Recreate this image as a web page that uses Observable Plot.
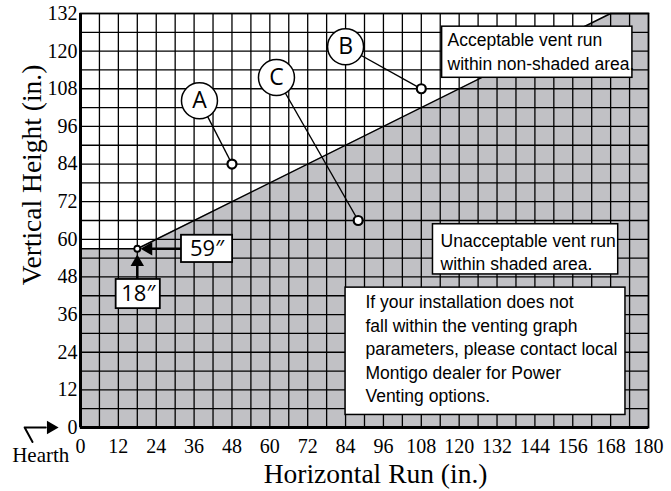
<!DOCTYPE html>
<html>
<head>
<meta charset="utf-8">
<script src="https://cdn.jsdelivr.net/npm/d3@7"></script>
<script src="https://cdn.jsdelivr.net/npm/@observablehq/plot@0.6"></script>
<style>
  html, body { margin: 0; padding: 0; background: white; }
  svg { display: block; }
</style>
</head>
<body>
<div id="chart"></div>
<script>
// Tick labels
const xTicks = [0, 12, 24, 36, 48, 60, 72, 84, 96, 108, 120, 132, 144, 156, 168, 180];
const yTicks = [0, 12, 24, 36, 48, 60, 72, 84, 96, 108, 120, 132];
// Grid lines (every 6 in.)
const xGrid = [6, 12, 18, 24, 30, 36, 42, 48, 54, 60, 66, 72, 78, 84, 90, 96, 102, 108, 114, 120, 126, 132, 138, 144, 150, 156, 162, 168, 174];
const yGrid = [6, 12, 18, 24, 30, 36, 42, 48, 54, 60, 66, 72, 78, 84, 90, 96, 102, 108, 114, 120, 126];

// Boundary of the unacceptable (shaded) area
const boundary = [
  {x: 0, y: 57},
  {x: 18, y: 57},
  {x: 168, y: 132},
  {x: 180, y: 132}
];

// Example installations with their labels
const examples = [
  {label: "A", x: 48, y: 84, lx: 37.7, ly: 104.2},
  {label: "B", x: 108, y: 108, lx: 84, ly: 121.4},
  {label: "C", x: 88, y: 66, lx: 62.1, ly: 111.6}
];

// Minimum point
const minPoint = [{x: 18, y: 57}];

// Note boxes
const notes = [
  {text: "Acceptable vent run\nwithin non-shaded area.", x1: 114.6, x2: 174.9, y1: 111.5, y2: 127.8, tx: 116.3, ty: 126.8},
  {text: "Unacceptable vent run\nwithin shaded area.", x1: 111.7, x2: 170.4, y1: 48.8, y2: 64.8, tx: 114.1, ty: 63.0},
  {text: "If your installation does not\nfall within the venting graph\nparameters, please contact local\nMontigo dealer for Power\nVenting options.", x1: 84.0, x2: 172.7, y1: 4.0, y2: 44.6, tx: 90.3, ty: 43.3}
];

// Dimension callouts
const dims = [
  {text: "59″", x1: 32.0, x2: 48.2, y1: 52.6, y2: 61.3},
  {text: "18″", x1: 11.3, x2: 25.3, y1: 37.9, y2: 47.2}
];
const shafts = [
  {x1: 32.0, y1: 57, x2: 21.5, y2: 57},
  {x1: 18, y1: 47.2, x2: 18, y2: 52.7}
];
const heads = [
  {x: 21.5, y: 57, rot: -90, r: 5},
  {x: 18, y: 52.7, rot: 0, r: 5},
  {x: -9.4, y: 0, rot: 90, r: 5}
];
// Hearth pointer
const hearthArrow = [
  {x: -15.2, y: -4.6},
  {x: -17.7, y: 0},
  {x: -11.0, y: 0}
];
const hearthLabel = [{text: "Hearth", x: -12.6, y: -9.0}];
const titles = [
  {text: "Horizontal Run (in.)", x: 93.5, y: -14.8, rotate: 0},
  {text: "Vertical Height (in.)", x: -15.2, y: 80.5, rotate: -90}
];

const serif = "Liberation Serif, Times New Roman, serif";
const sans = "Liberation Sans, Arial, sans-serif";
const round = "Open Sans, Liberation Sans, sans-serif";

const chart = Plot.plot({
  width: 671,
  height: 491,
  marginLeft: 80,
  marginRight: 23,
  marginTop: 13,
  marginBottom: 64,
  x: {domain: [0, 180]},
  y: {domain: [0, 132]},
  r: {type: "identity"},
  style: {fontFamily: serif, fontSize: "20px", background: "white", color: "black"},
  marks: [
    Plot.areaY(boundary, {x: "x", y: "y", fill: "#c1c1c5", curve: "linear"}),
    Plot.ruleX(xGrid, {stroke: "black", strokeWidth: 1.3}),
    Plot.ruleY(yGrid, {stroke: "black", strokeWidth: 1.3}),
    Plot.line(boundary, {x: "x", y: "y", stroke: "black", strokeWidth: 1.5}),
    Plot.frame({stroke: "black", strokeWidth: 1.8}),
    Plot.ruleX([0], {stroke: "black", strokeWidth: 3}),
    Plot.ruleY([0], {stroke: "black", strokeWidth: 3}),
    Plot.axisX({ticks: xTicks, tickSize: 0, tickPadding: 11, label: null, fontSize: 20, fontFamily: serif}),
    Plot.axisY({ticks: yTicks, tickSize: 0, tickPadding: 3, label: null, fontSize: 20, fontFamily: serif}),
    // leader lines and labels
    Plot.link(examples, {x1: "lx", y1: "ly", x2: "x", y2: "y", stroke: "black", strokeWidth: 1.4}),
    Plot.dot(examples, {x: "lx", y: "ly", r: 18, fill: "white", stroke: "black", strokeWidth: 1.5}),
    Plot.text(examples, {x: "lx", y: "ly", text: "label", fontSize: 23, fontFamily: round, fill: "black"}),
    Plot.dot(examples, {x: "x", y: "y", r: 4.5, fill: "white", stroke: "black", strokeWidth: 2.2}),
    // note boxes
    Plot.rect(notes, {x1: "x1", x2: "x2", y1: "y1", y2: "y2", fill: "white", stroke: "black", strokeWidth: 1.5}),
    Plot.text(notes, {x: "tx", y: "ty", text: "text", textAnchor: "start", lineAnchor: "top", fontSize: 17.5, lineHeight: 1.34, fontFamily: sans, fill: "black"}),
    // dimension callouts
    Plot.link(shafts, {x1: "x1", y1: "y1", x2: "x2", y2: "y2", stroke: "black", strokeWidth: 2.5}),
    Plot.line(hearthArrow, {x: "x", y: "y", stroke: "black", strokeWidth: 2}),
    Plot.dot(heads, {x: "x", y: "y", symbol: "triangle", r: "r", rotate: "rot", fill: "black", stroke: null}),
    Plot.dot(minPoint, {x: "x", y: "y", r: 3, fill: "white", stroke: "black", strokeWidth: 1.8}),
    Plot.rect(dims, {x1: "x1", x2: "x2", y1: "y1", y2: "y2", fill: "white", stroke: "black", strokeWidth: 1.8}),
    Plot.text(dims, {x: d => (d.x1 + d.x2) / 2, y: d => (d.y1 + d.y2) / 2, text: "text", fontSize: 22, fontFamily: round, fill: "black"}),
    // Hearth and axis titles
    Plot.text(hearthLabel, {x: "x", y: "y", text: "text", fontSize: 21, fontFamily: serif, fill: "black"}),
    Plot.text(titles, {x: "x", y: "y", text: "text", rotate: "rotate", fontSize: 27.5, fontFamily: serif, fill: "black"})
  ]
});
document.getElementById("chart").appendChild(chart);
</script>
</body>
</html>
